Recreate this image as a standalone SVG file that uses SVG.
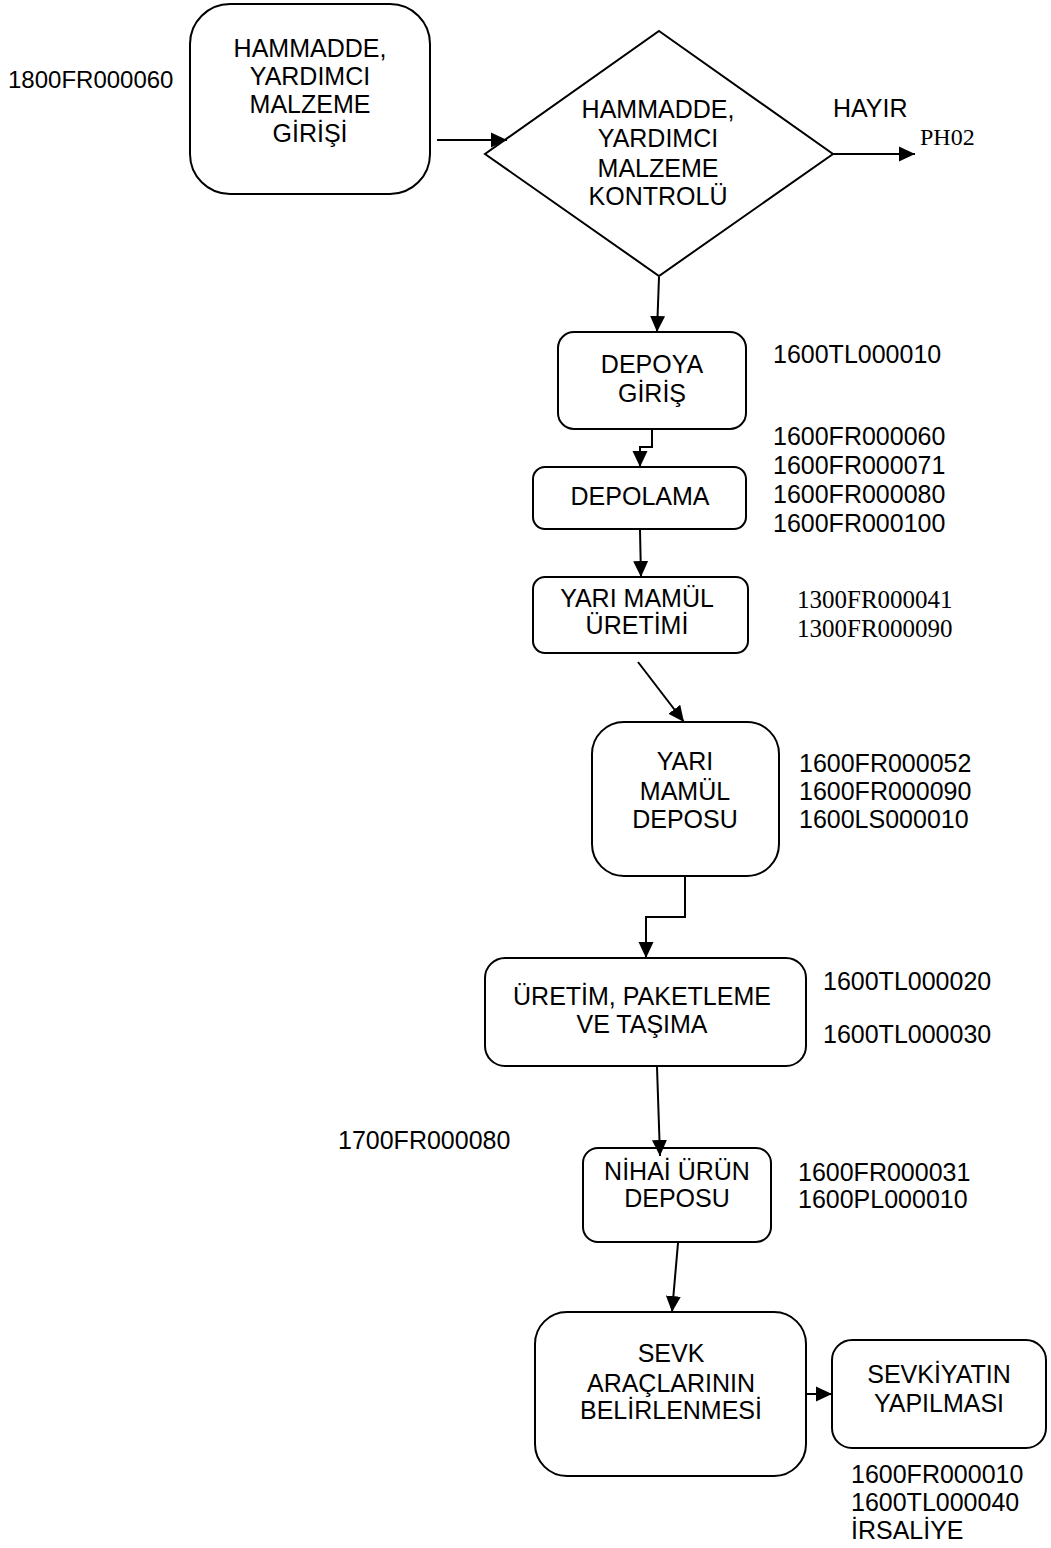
<svg xmlns="http://www.w3.org/2000/svg" width="1051" height="1548" viewBox="0 0 1051 1548">
  <style>
    .box { fill: #ffffff; stroke: #000000; stroke-width: 2; }
    .lbl { font-family: "Liberation Sans", Arial, sans-serif; font-size: 25px; fill: #000000; text-anchor: middle; }
    .code { font-family: "Liberation Sans", Arial, sans-serif; font-size: 25px; fill: #000000; }
    .code-serif { font-family: "Liberation Serif", "Times New Roman", serif; font-size: 25px; fill: #000000; }
    .conn { fill: none; stroke: #000000; stroke-width: 2; }
  </style>
  <defs>
    <marker id="arrow" markerUnits="userSpaceOnUse" markerWidth="17" markerHeight="16" refX="16" refY="8" orient="auto">
      <path d="M0,0.5 L16,8 L0,15.5 Z" fill="#000000"/>
    </marker>
  </defs>
  <rect width="1051" height="1548" fill="#ffffff"/>

  <!-- raw material entry -->
  <g id="node-entry">
    <rect class="box" x="190" y="4" width="240" height="190" rx="40" ry="40"/>
    <text class="lbl" x="310" y="57">HAMMADDE,</text>
    <text class="lbl" x="310" y="85">YARDIMCI</text>
    <text class="lbl" x="310" y="113">MALZEME</text>
    <text class="lbl" x="310" y="142">GİRİŞİ</text>
  </g>
  <text class="code" x="8" y="88" style="font-size:24px">1800FR000060</text>

  <!-- inspection decision -->
  <g id="node-control">
    <polygon class="box" points="659,31 833,154 659,276 485,154"/>
    <text class="lbl" x="658" y="118">HAMMADDE,</text>
    <text class="lbl" x="658" y="147">YARDIMCI</text>
    <text class="lbl" x="658" y="177">MALZEME</text>
    <text class="lbl" x="658" y="205">KONTROLÜ</text>
  </g>
  <text class="code" x="833" y="117">HAYIR</text>
  <text class="code-serif" x="920" y="145" style="font-size:24px">PH02</text>

  <!-- warehouse entry -->
  <g id="node-depoya">
    <rect class="box" x="558" y="332" width="188" height="97" rx="16" ry="16"/>
    <text class="lbl" x="652" y="373">DEPOYA</text>
    <text class="lbl" x="652" y="402">GİRİŞ</text>
  </g>
  <text class="code" x="773" y="363">1600TL000010</text>

  <!-- storage -->
  <g id="node-depolama">
    <rect class="box" x="533" y="467" width="213" height="62" rx="12" ry="12"/>
    <text class="lbl" x="640" y="505">DEPOLAMA</text>
  </g>
  <text class="code" x="773" y="445">1600FR000060</text>
  <text class="code" x="773" y="474">1600FR000071</text>
  <text class="code" x="773" y="503">1600FR000080</text>
  <text class="code" x="773" y="532">1600FR000100</text>

  <!-- semi-finished production -->
  <g id="node-yari-uretim">
    <rect class="box" x="533" y="577" width="215" height="76" rx="12" ry="12"/>
    <text class="lbl" x="637" y="607">YARI MAMÜL</text>
    <text class="lbl" x="637" y="634">ÜRETİMİ</text>
  </g>
  <text class="code-serif" x="797" y="608">1300FR000041</text>
  <text class="code-serif" x="797" y="637">1300FR000090</text>

  <!-- semi-finished store -->
  <g id="node-yari-depo">
    <rect class="box" x="592" y="722" width="187" height="154" rx="32" ry="32"/>
    <text class="lbl" x="685" y="770">YARI</text>
    <text class="lbl" x="685" y="800">MAMÜL</text>
    <text class="lbl" x="685" y="828">DEPOSU</text>
  </g>
  <text class="code" x="799" y="772">1600FR000052</text>
  <text class="code" x="799" y="800">1600FR000090</text>
  <text class="code" x="799" y="828">1600LS000010</text>

  <!-- production, packaging, transport -->
  <g id="node-uretim">
    <rect class="box" x="485" y="958" width="321" height="108" rx="20" ry="20"/>
    <text class="lbl" x="642" y="1005">ÜRETİM, PAKETLEME</text>
    <text class="lbl" x="642" y="1033">VE TAŞIMA</text>
  </g>
  <text class="code" x="823" y="990">1600TL000020</text>
  <text class="code" x="823" y="1043">1600TL000030</text>

  <text class="code" x="338" y="1149">1700FR000080</text>

  <!-- finished goods store -->
  <g id="node-nihai">
    <rect class="box" x="583" y="1148" width="188" height="94" rx="15" ry="15"/>
    <text class="lbl" x="677" y="1180">NİHAİ ÜRÜN</text>
    <text class="lbl" x="677" y="1207">DEPOSU</text>
  </g>
  <text class="code" x="798" y="1181">1600FR000031</text>
  <text class="code" x="798" y="1208">1600PL000010</text>

  <!-- vehicle assignment -->
  <g id="node-sevk">
    <rect class="box" x="535" y="1312" width="271" height="164" rx="32" ry="32"/>
    <text class="lbl" x="671" y="1362">SEVK</text>
    <text class="lbl" x="671" y="1392">ARAÇLARININ</text>
    <text class="lbl" x="671" y="1419">BELİRLENMESİ</text>
  </g>

  <!-- dispatch -->
  <g id="node-sevkiyat">
    <rect class="box" x="832" y="1340" width="214" height="108" rx="20" ry="20"/>
    <text class="lbl" x="939" y="1383">SEVKİYATIN</text>
    <text class="lbl" x="939" y="1412">YAPILMASI</text>
  </g>
  <text class="code" x="851" y="1483">1600FR000010</text>
  <text class="code" x="851" y="1511">1600TL000040</text>
  <text class="code" x="851" y="1539">İRSALİYE</text>

  <!-- connectors, drawn above the boxes so arrowheads stay visible -->
  <g id="connectors">
    <line class="conn" x1="437" y1="140" x2="507" y2="140" marker-end="url(#arrow)"/>
    <line class="conn" x1="833" y1="154" x2="915" y2="154" marker-end="url(#arrow)"/>
    <line class="conn" x1="659" y1="277" x2="657" y2="332" marker-end="url(#arrow)"/>
    <polyline class="conn" points="652,430 652,447 640,447 640,467" marker-end="url(#arrow)"/>
    <line class="conn" x1="640" y1="530" x2="641" y2="577" marker-end="url(#arrow)"/>
    <line class="conn" x1="638" y1="662" x2="684" y2="722" marker-end="url(#arrow)"/>
    <polyline class="conn" points="685,877 685,917 646,917 646,958" marker-end="url(#arrow)"/>
    <line class="conn" x1="657" y1="1067" x2="660" y2="1156" marker-end="url(#arrow)"/>
    <line class="conn" x1="678" y1="1243" x2="672" y2="1312" marker-end="url(#arrow)"/>
    <line class="conn" x1="807" y1="1394" x2="832" y2="1394" marker-end="url(#arrow)"/>
  </g>
</svg>
